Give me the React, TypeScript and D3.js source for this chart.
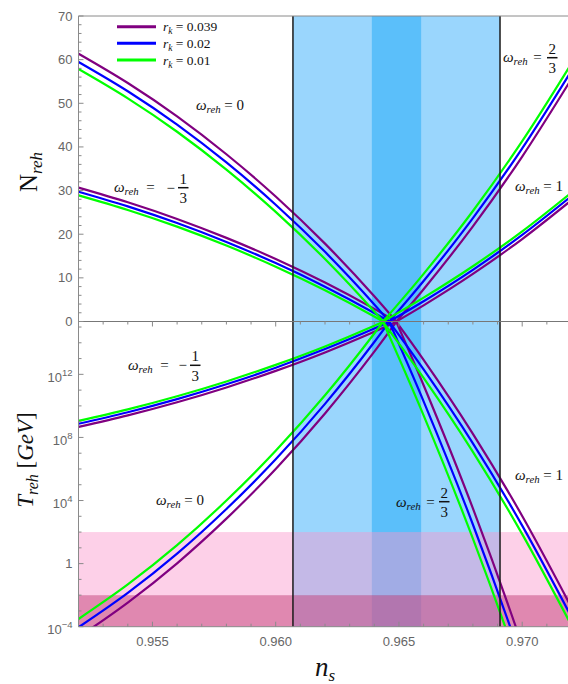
import React from 'react';
import * as d3 from 'd3';

// ---- data ----
const NS_LEFT = [0.952, 0.954, 0.956, 0.958, 0.96, 0.962, 0.964, 0.966];
const NS_RIGHT = [0.964, 0.966, 0.968, 0.97, 0.972];

const R_LABELS = ['0.039', '0.02', '0.01'];
const R_COLORS = ['#800080', '#0000ff', '#00ff00'];

// N_reh for w = -1/3, 0 (on NS_LEFT) and w = 2/3, 1 (on NS_RIGHT), per r_k
const N_WM13 = [
  [30.68, 27.32, 23.5, 19.16, 14.32, 8.92, 2.9, -3.7],
  [29.74, 26.38, 22.56, 18.22, 13.38, 7.98, 1.96, -4.64],
  [28.92, 25.56, 21.74, 17.4, 12.56, 7.16, 1.14, -5.46],
];
const N_W0 = [
  [61.36, 54.64, 47.0, 38.32, 28.64, 17.84, 5.8, -7.4],
  [59.48, 52.76, 45.12, 36.44, 26.76, 15.96, 3.92, -9.28],
  [57.84, 51.12, 43.48, 34.8, 25.12, 14.32, 2.28, -10.92],
];
const N_W23 = [
  [-5.8, 7.4, 21.8, 37.8, 55.6],
  [-3.92, 9.28, 23.68, 39.68, 57.48],
  [-2.28, 10.92, 25.32, 41.32, 59.12],
];
const N_W1 = [
  [-2.9, 3.7, 10.9, 18.9, 27.8],
  [-1.96, 4.64, 11.84, 19.84, 28.74],
  [-1.14, 5.46, 12.66, 20.66, 29.56],
];

// log10(T_reh / GeV)
const LOGT_WM13 = [
  [8.67, 9.4, 10.23, 11.17, 12.22, 13.39, 14.7, 16.13],
  [8.87, 9.6, 10.43, 11.37, 12.42, 13.6, 14.9, 16.34],
  [9.05, 9.78, 10.61, 11.55, 12.6, 13.77, 15.08, 16.52],
];
const LOGT_W0 = [
  [-4.66, -2.47, 0.02, 2.85, 6.0, 9.52, 13.44, 17.74],
  [-4.04, -1.86, 0.63, 3.46, 6.61, 10.13, 14.05, 18.35],
  [-3.51, -1.32, 1.17, 4.0, 7.15, 10.67, 14.59, 18.89],
];
const LOGT_W23 = [
  [18.48, 11.31, 3.5, -5.19, -14.85],
  [17.46, 10.29, 2.48, -6.21, -15.88],
  [16.57, 9.4, 1.58, -7.1, -16.77],
];
const LOGT_W1 = [
  [17.22, 12.92, 8.23, 3.02, -2.78],
  [16.61, 12.31, 7.62, 2.41, -3.39],
  [16.07, 11.77, 7.08, 1.87, -3.93],
];

const NS_PLANCK_BAND = [0.9607, 0.9691];
const NS_INNER_BAND = [0.9639, 0.9659];
const T_BBN_BAND = [1e-4, 1e-2];
const T_EW_BAND = [1e-2, 1e2];

const N_TICKS = [0, 10, 20, 30, 40, 50, 60, 70];
const T_MAJOR_EXP = [-4, 0, 4, 8, 12];
const X_TICKS = [0.955, 0.96, 0.965, 0.97];
const X_TICK_LABELS = ['0.955', '0.960', '0.965', '0.970'];

const SANS = '"Liberation Sans", Arial, sans-serif';
const SERIF = '"Liberation Serif", "Times New Roman", serif';

function Omega({ x, y, rhs, fs = 15, eqShift = 0 }: { x: number; y: number; rhs: string; fs?: number; eqShift?: number }) {
  return (
    <text x={x} y={y} fontFamily={SERIF} fontSize={fs} fill="#111">
      <tspan fontStyle="italic">ω</tspan>
      <tspan fontStyle="italic" fontSize={fs * 0.72} dy={3}>reh</tspan>
      <tspan dy={-3} dx={eqShift}>{' ' + rhs}</tspan>
    </text>
  );
}

function Frac({ x, y, num, den, w = 10.5, minus = false }: { x: number; y: number; num: string; den: string; w?: number; minus?: boolean }) {
  return (
    <g fontFamily={SERIF} fontSize={15} fill="#111">
      {minus && <text x={x - 3} y={y + 5} textAnchor="end">−</text>}
      <text x={x + w / 2} y={y - 4} textAnchor="middle">{num}</text>
      <line x1={x} x2={x + w} y1={y} y2={y} stroke="#111" strokeWidth={1.5} />
      <text x={x + w / 2} y={y + 15.5} textAnchor="middle">{den}</text>
    </g>
  );
}

export default function App() {
  const W = 568, H = 684;
  const left = 78.5, right = 571.5;
  const top = 16, mid = 321.5, bottom = 626.7;

  const x = d3.scaleLinear().domain([0.952, 0.972]).range([left, right]);
  const yN = d3.scaleLinear().domain([0, 70]).range([mid, top]);
  const yT = d3.scaleLog().domain([1e-4, Math.pow(10, 15.35)]).range([bottom, mid]);

  const lineN = (xs: number[]) =>
    d3.line<number>().x((_, i) => x(xs[i])).y((d) => yN(d)).curve(d3.curveMonotoneX);
  const lineT = (xs: number[]) =>
    d3.line<number>().x((_, i) => x(xs[i])).y((d) => yT(Math.pow(10, d))).curve(d3.curveMonotoneX);

  const topSeries: [number[], number[][]][] = [
    [NS_LEFT, N_WM13],
    [NS_LEFT, N_W0],
    [NS_RIGHT, N_W23],
    [NS_RIGHT, N_W1],
  ];
  const botSeries: [number[], number[][]][] = [
    [NS_LEFT, LOGT_WM13],
    [NS_LEFT, LOGT_W0],
    [NS_RIGHT, LOGT_W23],
    [NS_RIGHT, LOGT_W1],
  ];

  const xMinor = d3.range(952, 973).map((k) => k / 1000);
  const nMinor = d3.range(0, 71, 2);
  const tMinor = d3.range(-4, 16);

  const axisColor = '#8a8a8a';
  const labelColor = '#666';

  return (
    <svg width={W} height={H} style={{ position: 'absolute', left: 0, top: 0, background: '#fff' }}>
      <defs>
        <clipPath id="clipTop">
          <rect x={left} y={top} width={right - left} height={mid - top} />
        </clipPath>
        <clipPath id="clipBot">
          <rect x={left} y={mid} width={right - left} height={bottom - mid} />
        </clipPath>
      </defs>

      {/* blue ns bands */}
      <rect x={x(NS_PLANCK_BAND[0])} y={top} width={x(NS_PLANCK_BAND[1]) - x(NS_PLANCK_BAND[0])} height={bottom - top} fill="#9ad6fd" />
      <rect x={x(NS_INNER_BAND[0])} y={top} width={x(NS_INNER_BAND[1]) - x(NS_INNER_BAND[0])} height={bottom - top} fill="#5bbffa" />

      {/* pink T bands */}
      <rect x={left} y={yT(T_EW_BAND[1])} width={right - left} height={yT(T_EW_BAND[0]) - yT(T_EW_BAND[1])} fill="rgb(250,148,203)" fillOpacity={0.44} />
      <rect x={left} y={yT(T_BBN_BAND[1])} width={right - left} height={yT(T_BBN_BAND[0]) - yT(T_BBN_BAND[1])} fill="rgb(212,90,145)" fillOpacity={0.72} />

      {/* curves */}
      <g clipPath="url(#clipTop)" fill="none" strokeWidth={2.2}>
        {topSeries.map(([xs, sets], si) =>
          sets.map((vals, ri) => (
            <path key={`t${si}-${ri}`} d={lineN(xs)(vals) || ''} stroke={R_COLORS[ri]} />
          ))
        )}
      </g>
      <g clipPath="url(#clipBot)" fill="none" strokeWidth={2.2}>
        {botSeries.map(([xs, sets], si) =>
          sets.map((vals, ri) => (
            <path key={`b${si}-${ri}`} d={lineT(xs)(vals) || ''} stroke={R_COLORS[ri]} />
          ))
        )}
      </g>

      {/* vertical Planck lines */}
      {NS_PLANCK_BAND.map((v, i) => (
        <line key={`v${i}`} x1={x(v)} x2={x(v)} y1={top} y2={bottom} stroke="#1a1a1a" strokeWidth={1.5} />
      ))}

      {/* frame */}
      <g stroke={axisColor} strokeWidth={1} fill="none">
        <line x1={left} x2={right} y1={top} y2={top} />
        <line x1={left} x2={right} y1={bottom} y2={bottom} />
        <line x1={left} x2={left} y1={top} y2={bottom} />
      </g>
      <line x1={left} x2={right} y1={mid} y2={mid} stroke="#777" strokeWidth={1.2} />

      {/* ticks */}
      <g stroke={axisColor} strokeWidth={1}>
        {xMinor.map((v, i) => {
          const major = Math.round(v * 1000) % 5 === 0;
          const L = major ? 5 : 3;
          return (
            <g key={`xt${i}`}>
              <line x1={x(v)} x2={x(v)} y1={bottom} y2={bottom - L} />
              <line x1={x(v)} x2={x(v)} y1={mid} y2={mid + L} />
            </g>
          );
        })}
        {nMinor.map((v) => (
          <line key={`nt${v}`} x1={left} x2={left + (v % 10 === 0 ? 5 : 3)} y1={yN(v)} y2={yN(v)} />
        ))}
        {tMinor.map((e) => (
          <line key={`tt${e}`} x1={left} x2={left + (T_MAJOR_EXP.includes(e) ? 5 : 3)} y1={yT(Math.pow(10, e))} y2={yT(Math.pow(10, e))} />
        ))}
      </g>

      {/* tick labels */}
      <g fontFamily={SANS} fontSize={13} fill={labelColor}>
        {N_TICKS.map((v) => (
          <text key={`nl${v}`} x={left - 6} y={yN(v) + 4.5} textAnchor="end">{v}</text>
        ))}
        {T_MAJOR_EXP.map((e) => (
          <text key={`tl${e}`} x={left - 6} y={yT(Math.pow(10, e)) + (e === 0 ? 4.5 : 7.5)} textAnchor="end">
            {e === 0 ? '1' : (
              <>
                {'10'}
                <tspan fontSize={9.5} dy={-6}>{e < 0 ? '−' + Math.abs(e) : String(e)}</tspan>
              </>
            )}
          </text>
        ))}
        {X_TICKS.map((v, i) => (
          <text key={`xl${i}`} x={x(v)} y={646} textAnchor="middle">{X_TICK_LABELS[i]}</text>
        ))}
      </g>

      {/* axis titles */}
      <text transform="translate(37,172) rotate(-90)" fontFamily={SERIF} fontSize={25} textAnchor="middle" fill="#111">
        N<tspan fontStyle="italic" fontSize={17} dy={5}>reh</tspan>
      </text>
      <text transform="translate(33,460) rotate(-90)" fontFamily={SERIF} fontSize={23} textAnchor="middle" fill="#111">
        <tspan fontStyle="italic">T</tspan>
        <tspan fontStyle="italic" fontSize={16} dy={5}>reh</tspan>
        <tspan dy={-5}>{' ['}</tspan>
        <tspan fontStyle="italic">GeV</tspan>
        <tspan>]</tspan>
      </text>
      <text x={325} y={676} fontFamily={SERIF} fontSize={27} textAnchor="middle" fill="#111">
        <tspan fontStyle="italic">n</tspan>
        <tspan fontStyle="italic" fontSize={17} dy={5}>s</tspan>
      </text>

      {/* legend */}
      {R_LABELS.map((r, i) => {
        const ly = 26.7 + i * 16.65;
        return (
          <g key={`lg${i}`}>
            <line x1={117} x2={156} y1={ly} y2={ly} stroke={R_COLORS[i]} strokeWidth={3} />
            <text x={163} y={ly + 4.5} fontFamily={SERIF} fontSize={13.5} fill="#111">
              <tspan fontStyle="italic">r</tspan>
              <tspan fontStyle="italic" fontSize={9.5} dy={3}>k</tspan>
              <tspan dy={-3}>{' = ' + r}</tspan>
            </text>
          </g>
        );
      })}

      {/* annotations: top panel */}
      <Omega x={196} y={110} rhs="= 0" />
      <Omega x={114} y={192} rhs="=" eqShift={4} />
      <Frac x={178} y={187.7} num="1" den="3" minus />
      <Omega x={503} y={62} rhs="=" eqShift={2} />
      <Frac x={547} y={57.7} num="2" den="3" />
      <Omega x={515} y={190.5} rhs="= 1" />

      {/* annotations: bottom panel */}
      <Omega x={128} y={369.5} rhs="=" eqShift={4} />
      <Frac x={190} y={365.3} num="1" den="3" minus />
      <Omega x={156} y={505} rhs="= 0" />
      <Omega x={396} y={507} rhs="=" eqShift={2} />
      <Frac x={439} y={501.7} num="2" den="3" />
      <Omega x={515} y={480} rhs="= 1" />
    </svg>
  );
}
